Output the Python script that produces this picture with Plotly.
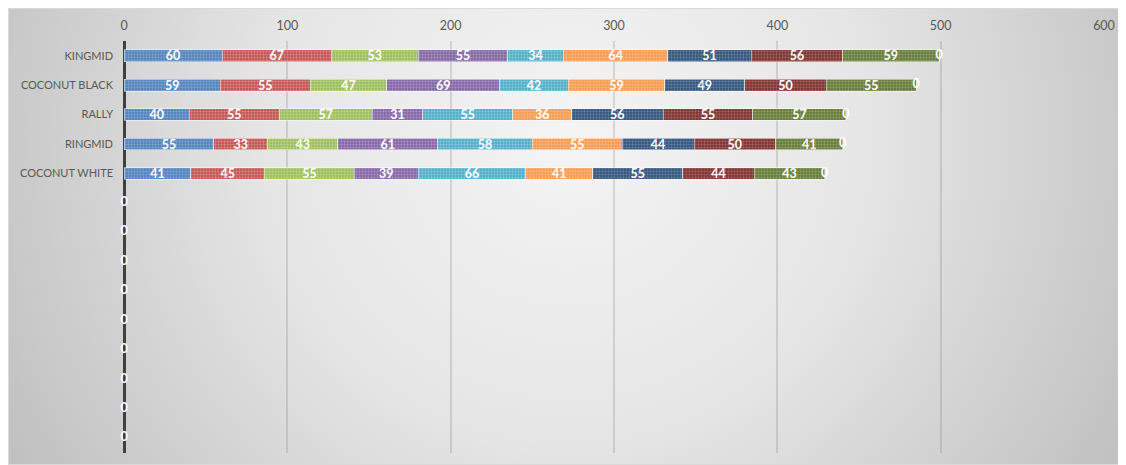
import base64
import plotly.graph_objects as go

categories = ["KINGMID", "COCONUT BLACK", "RALLY", "RINGMID", "COCONUT WHITE",
              "", "", "", "", "", "", "", "", ""]
series_names = ["Series 1", "Series 2", "Series 3", "Series 4", "Series 5",
                "Series 6", "Series 7", "Series 8", "Series 9"]
s1 = [60, 59, 40, 55, 41]
s2 = [67, 55, 55, 33, 45]
s3 = [53, 47, 57, 43, 55]
s4 = [55, 69, 31, 61, 39]
s5 = [34, 42, 55, 58, 66]
s6 = [64, 59, 36, 55, 41]
s7 = [51, 49, 56, 44, 55]
s8 = [56, 50, 55, 50, 44]
s9 = [59, 55, 57, 41, 43]
total_label_values = [0] * 14
x_ticks = [0, 100, 200, 300, 400, 500, 600]

series = [s1, s2, s3, s4, s5, s6, s7, s8, s9]
colors = ["#4a7ebb", "#be4b48", "#98b954", "#7d60a0", "#46aac5",
          "#f79646", "#2c4d75", "#772c2a", "#5f7530"]
fg = ["#7aa0d0", "#d68482", "#b8d385", "#a48cc0", "#80c6d9",
      "#f9b47c", "#5f7c9f", "#a05d5b", "#8a9c64"]

n = len(categories)
ypos = list(range(n))
font = "Lato, Carlito, 'Liberation Sans', sans-serif"

fig = go.Figure()
for i, vals in enumerate(series):
    full = vals + [None] * (n - len(vals))
    fig.add_trace(go.Bar(
        y=ypos, x=full, orientation="h", name=series_names[i],
        width=0.4,
        marker=dict(color=colors[i],
                    line=dict(color="rgba(255,255,255,0.6)", width=0.8),
                    pattern=dict(shape=".", fillmode="replace", bgcolor=colors[i],
                                 fgcolor=fg[i], size=3, solidity=0.5)),
        text=[str(v) if v is not None else "" for v in full],
        textposition="inside", insidetextanchor="middle", textangle=0,
        constraintext="none",
        textfont=dict(family=font, size=12.5, color="white", weight="bold"),
        hoverinfo="skip",
    ))

totals = []
for r in range(n):
    t = 0
    for vals in series:
        if r < len(vals):
            t += vals[r]
    totals.append(t)

fig.add_trace(go.Scatter(
    y=ypos, x=totals, mode="text", text=[str(v) for v in total_label_values],
    textposition="middle center",
    textfont=dict(family=font, size=12.5, color="white", weight="bold"),
    hoverinfo="skip", showlegend=False, cliponaxis=False,
))

svg = """<svg xmlns='http://www.w3.org/2000/svg' width='1118' height='457' viewBox='0 0 1118 457' preserveAspectRatio='none'>
<defs><radialGradient id='g' gradientUnits='userSpaceOnUse' cx='560' cy='130' r='660'>
<stop offset='0' stop-color='#f4f4f4'/><stop offset='0.45' stop-color='#e6e6e6'/><stop offset='1' stop-color='#bebebe'/></radialGradient></defs>
<rect x='0' y='0' width='1118' height='457' fill='url(#g)'/>
<rect x='0.5' y='0.5' width='1117' height='456' fill='none' stroke='#d9d9d9' stroke-width='1'/></svg>"""
src = "data:image/svg+xml;base64," + base64.b64encode(svg.encode()).decode()

W, H = 1118, 457
L, R, T, B = 116, 22, 33, 12
pw, ph = W - L - R, H - T - B
fig.add_layout_image(dict(
    source=src, xref="paper", yref="paper",
    x=-L / pw, y=(H - B) / ph,
    sizex=W / pw, sizey=H / ph,
    sizing="stretch", layer="below", xanchor="left", yanchor="top",
))

fig.update_layout(
    width=W, height=H, margin=dict(l=L, r=R, t=T, b=B, autoexpand=False),
    barmode="stack", showlegend=False,
    paper_bgcolor="white", plot_bgcolor="rgba(0,0,0,0)",
    font=dict(family=font, color="#595959", size=12),
    xaxis=dict(side="top", range=[0, 600], tickvals=x_ticks, automargin=False,
               showgrid=True, gridcolor="rgba(120,120,120,0.24)", gridwidth=1.5,
               zeroline=True, zerolinecolor="#404040", zerolinewidth=2.5,
               showline=False, ticks="", tickfont=dict(size=12.5, color="#595959"),
               ticklabelstandoff=8),
    yaxis=dict(range=[n - 0.5, -0.5], tickvals=ypos, ticktext=categories,
               automargin=False,
               showgrid=False, zeroline=False, showline=False, ticks="",
               tickfont=dict(size=11, color="#595959"), ticklabelstandoff=10),
)

fig.write_html("out.html")
